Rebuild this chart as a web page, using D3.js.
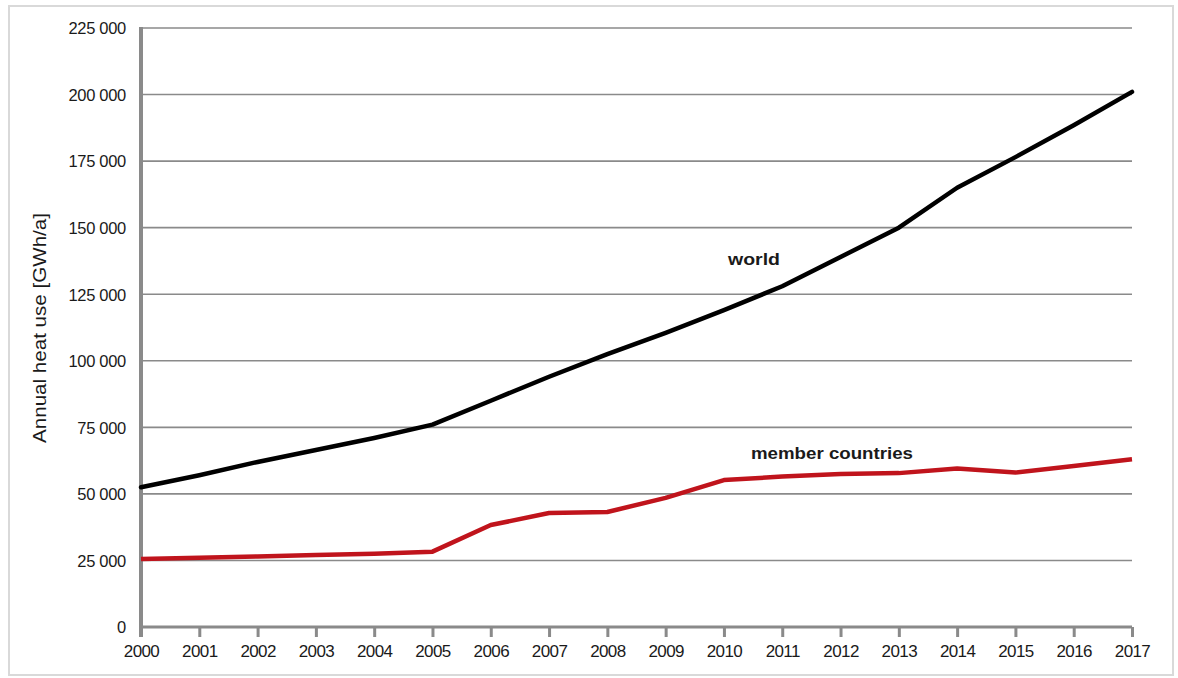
<!DOCTYPE html>
<html>
<head>
<meta charset="utf-8">
<script src="https://cdn.jsdelivr.net/npm/d3@7"></script>
<style>
  html, body { margin: 0; padding: 0; background: #fff; }
  svg { display: block; }
  text { font-family: "Liberation Sans", Arial, sans-serif; fill: #1a1a1a; }
</style>
</head>
<body>
<svg id="chart" width="1178" height="678"></svg>
<script>
// ---- data ----
const years = [2000, 2001, 2002, 2003, 2004, 2005, 2006, 2007, 2008, 2009, 2010, 2011, 2012, 2013, 2014, 2015, 2016, 2017];
const worldValues = [52500, 57000, 62000, 66500, 71000, 76000, 85000, 94000, 102500, 110500, 119000, 128000, 139000, 150000, 165000, 176500, 188500, 201000];
const memberValues = [25500, 26000, 26500, 27000, 27500, 28300, 38300, 42800, 43200, 48500, 55200, 56500, 57500, 57800, 59500, 58000, 60500, 63000];
const yTicks = [0, 25000, 50000, 75000, 100000, 125000, 150000, 175000, 200000, 225000];
const yTitle = "Annual heat use [GWh/a]";
const seriesLabels = ["world", "member countries"];

// ---- layout ----
const svg = d3.select("#chart");
const mLeft = 141, mRight = 1132, mTop = 28, mBottom = 627;

const x = d3.scaleLinear().domain([2000, 2017]).range([mLeft, mRight]);
const y = d3.scaleLinear().domain([0, 225000]).range([mBottom, mTop]);

// outer frame
svg.append("rect")
  .attr("x", 9).attr("y", 6).attr("width", 1164).attr("height", 669)
  .attr("fill", "none").attr("stroke", "#d9d9d9").attr("stroke-width", 2);

const fmt = v => v === 0 ? "0" : d3.format(",")(v).replace(/,/g, " ");

// gridlines
svg.append("g").selectAll("line").data(yTicks.filter(d => d > 0)).join("line")
  .attr("x1", mLeft).attr("x2", mRight)
  .attr("y1", d => y(d)).attr("y2", d => y(d))
  .attr("stroke", "#8a8a8a").attr("stroke-width", 1.6);

// y axis
const yAxis = d3.axisLeft(y).tickValues(yTicks).tickSize(0).tickPadding(15).tickFormat(fmt);
const gy = svg.append("g").attr("transform", `translate(${mLeft},0)`).call(yAxis);
gy.select(".domain").remove();
gy.selectAll("text").style("font-size", "16.5px").attr("fill", "#111").attr("dy", "0.35em")
  .attr("letter-spacing", "-0.3px");
svg.append("line").attr("x1", mLeft).attr("x2", mLeft).attr("y1", mTop - 1).attr("y2", mBottom + 10)
  .attr("stroke", "#8a8a8a").attr("stroke-width", 4);

// x axis
const xAxis = d3.axisBottom(x).tickValues(years).tickSize(10).tickPadding(8).tickFormat(d3.format("d"));
const gx = svg.append("g").attr("transform", `translate(0,${mBottom})`).call(xAxis);
gx.select(".domain").attr("stroke", "#8a8a8a").attr("stroke-width", 3)
  .attr("d", `M${mLeft},0H${mRight}`);
gx.selectAll(".tick line").attr("stroke", "#8a8a8a").attr("stroke-width", 3);
gx.selectAll("text").style("font-size", "17px").attr("fill", "#111").attr("letter-spacing", "-0.6px");

// y title
svg.append("text")
  .attr("transform", `translate(46,328) rotate(-90)`)
  .attr("text-anchor", "middle")
  .style("font-size", "18px").attr("fill", "#111")
  .attr("textLength", 230).attr("lengthAdjust", "spacingAndGlyphs")
  .text(yTitle);

// lines
const line = d3.line().x((d, i) => x(years[i])).y(d => y(d));
svg.append("path").datum(worldValues).attr("d", line)
  .attr("fill", "none").attr("stroke", "#000").attr("stroke-width", 4.5)
  .attr("stroke-linejoin", "round").attr("stroke-linecap", "round");
svg.append("path").datum(memberValues).attr("d", line)
  .attr("fill", "none").attr("stroke", "#c0141c").attr("stroke-width", 4.5)
  .attr("stroke-linejoin", "round");

// series labels
svg.append("text").attr("x", 728).attr("y", 265)
  .style("font-size", "17px").style("font-weight", "bold").attr("fill", "#111")
  .attr("textLength", 52).attr("lengthAdjust", "spacingAndGlyphs")
  .text(seriesLabels[0]);
svg.append("text").attr("x", 751).attr("y", 459)
  .style("font-size", "17px").style("font-weight", "bold").attr("fill", "#c0141c")
  .attr("textLength", 162).attr("lengthAdjust", "spacingAndGlyphs")
  .text(seriesLabels[1]);
</script>
</body>
</html>
